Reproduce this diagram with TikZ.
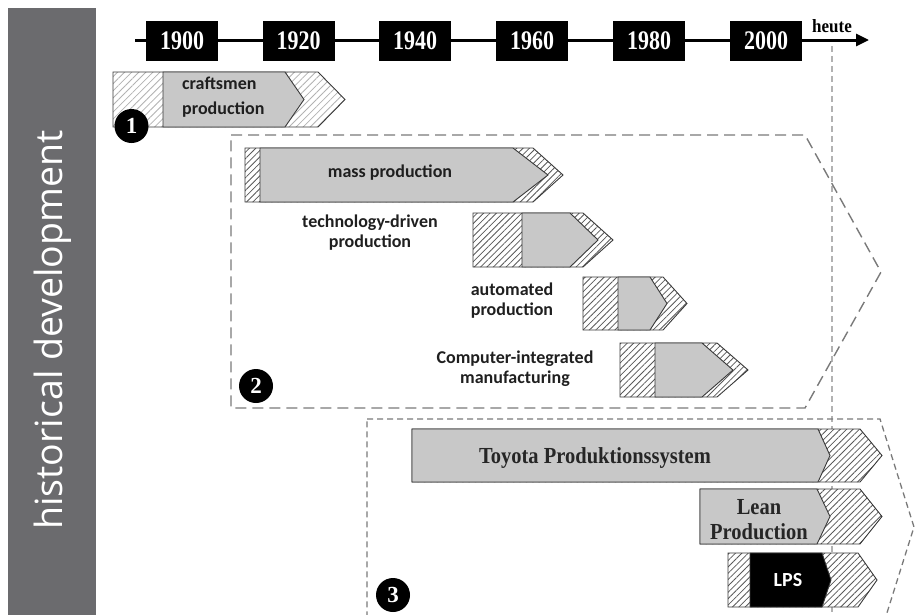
\documentclass[tikz,border=0pt]{standalone}
\usepackage{fontspec}
\usepackage{graphicx}
\setmainfont{Liberation Serif}
\newfontfamily\calfont{Carlito}
\newfontfamily\osfont{Open Sans}
\usetikzlibrary{arrows.meta,patterns.meta}
\definecolor{barcol}{HTML}{6B6B6E}
\definecolor{boxgray}{HTML}{C8C8C8}
\definecolor{edgecol}{HTML}{3A3A3A}
\definecolor{dashcol}{HTML}{7A7A7A}
\begin{document}
\begin{tikzpicture}[x=1pt,y=-1pt,
  yearbox/.style={fill=black,minimum width=72pt,minimum height=40pt,inner sep=0pt,
    text=white,font=\bfseries\fontsize{22}{24}\selectfont},
  hatchlight/.style={draw=edgecol,line width=0.9pt,preaction={fill=white},
    pattern={Lines[angle=45,distance=5pt,line width=0.8pt]},pattern color=black!30},
  hatchdark/.style={draw=edgecol,line width=0.9pt,preaction={fill=white},
    pattern={Lines[angle=45,distance=4.5pt,line width=0.8pt]},pattern color=black!65},
  grayarrow/.style={draw=edgecol,line width=0.9pt,fill=boxgray},
  sanslabel/.style={font=\calfont\bfseries\fontsize{18}{20}\selectfont,text=black!88,align=center,inner sep=0pt},
  seriflabel/.style={font=\bfseries\fontsize{20.5}{25}\selectfont,text=black!85,align=center,inner sep=0pt},
  numcircle/.style={circle,fill=black,minimum size=34pt,inner sep=0pt,text=white,
    font=\bfseries\fontsize{23}{24}\selectfont},
  group2/.style={draw=dashcol,line width=1.4pt,dash pattern=on 11pt off 6pt},
  group3/.style={draw=dashcol,line width=1.3pt,dash pattern=on 6pt off 4pt},
  nowline/.style={draw=black!30,line width=1.2pt,dash pattern=on 6pt off 4pt}]
\useasboundingbox (0,0) rectangle (915,614);
\clip (0,0) rectangle (915,614);
% side bar
\fill[barcol] (8,8) rectangle (96,620);
\node[rotate=90,text=white,font=\osfont\fontsize{37.5}{40}\selectfont,inner sep=0pt] (hist) at (53,330) {historical development};
% now line
\coordinate (nowtop) at (832,46);
\coordinate (nowbot) at (832,614);
\draw[nowline] (nowtop) -- (nowbot);
% timeline
\coordinate (tlstart) at (135,40);
\coordinate (tlend) at (869,40);
\draw[line width=3pt,-{Triangle[length=13pt,width=12pt]}] (tlstart) -- (tlend);
\node[yearbox] (y1900) at (182,41) {\scalebox{1}[1.22]{1900}};
\node[yearbox] (y1920) at (298.5,41) {\scalebox{1}[1.22]{1920}};
\node[yearbox] (y1940) at (415,41) {\scalebox{1}[1.22]{1940}};
\node[yearbox] (y1960) at (532,41) {\scalebox{1}[1.22]{1960}};
\node[yearbox] (y1980) at (649,41) {\scalebox{1}[1.22]{1980}};
\node[yearbox] (y2000) at (766,41) {\scalebox{1}[1.22]{2000}};
\node[font=\bfseries\fontsize{17}{18}\selectfont] (heute) at (832,26) {\scalebox{1}[1.1]{heute}};
% group frames
\draw[group2] (231,135) -- (805,135) -- (881,272) -- (805,408) -- (231,408) -- cycle;
\draw[group3] (367,419) -- (880,419) -- (914,527) -- (880,635) -- (367,635) -- cycle;
% 1 craftsmen
\draw[hatchlight] (113,72) -- (318,72) -- (345,99.5) -- (318,127) -- (113,127) -- cycle;
\draw[grayarrow] (163,72) -- (285,72) -- (304,99.5) -- (285,127) -- (163,127) -- cycle;
\node[sanslabel,anchor=west,align=left,font=\calfont\bfseries\fontsize{18}{25}\selectfont] (craft) at (182,97.5) {craftsmen\\production};
\node[numcircle] (c1) at (131.5,126) {1};
% 2 mass production
\draw[hatchdark] (245,148) -- (533,148) -- (563,175) -- (533,202) -- (245,202) -- cycle;
\draw[grayarrow] (260,148) -- (513,148) -- (548,175) -- (513,202) -- (260,202) -- cycle;
\node[sanslabel] (mass) at (390,173) {mass production};
% technology-driven
\draw[hatchdark] (473,213) -- (583,213) -- (613,240) -- (583,267) -- (473,267) -- cycle;
\draw[grayarrow] (522,213) -- (570,213) -- (598,240) -- (570,267) -- (522,267) -- cycle;
\node[sanslabel] (tech) at (370,233) {technology-driven\\production};
% automated
\draw[hatchdark] (583,277) -- (663,277) -- (687,303.5) -- (663,330) -- (583,330) -- cycle;
\draw[grayarrow] (618,277) -- (650,277) -- (667,303.5) -- (650,330) -- (618,330) -- cycle;
\node[sanslabel] (auto) at (512,301) {automated\\production};
% CIM
\draw[hatchdark] (620,343) -- (717,343) -- (748,370) -- (717,397) -- (620,397) -- cycle;
\draw[grayarrow] (655,343) -- (702,343) -- (733,370) -- (702,397) -- (655,397) -- cycle;
\node[sanslabel] (cim) at (515,369) {Computer-integrated\\manufacturing};
\node[numcircle] (c2) at (256,386) {2};
% 3 Toyota
\draw[hatchdark] (412,429) -- (860,429) -- (882,455.5) -- (860,482) -- (412,482) -- cycle;
\draw[grayarrow] (412,429) -- (818,429) -- (830,455.5) -- (818,482) -- (412,482) -- cycle;
\node[seriflabel] (tps) at (595,458) {\scalebox{1}[1.12]{Toyota Produktionssystem}};
% Lean
\draw[hatchdark] (700,489) -- (860,489) -- (882,516.5) -- (860,544) -- (700,544) -- cycle;
\draw[grayarrow] (700,489) -- (817,489) -- (830,516.5) -- (817,544) -- (700,544) -- cycle;
\node[seriflabel] (lean) at (759,520) {\scalebox{1}[1.12]{Lean}\\\scalebox{1}[1.12]{Production}};
% LPS
\draw[hatchdark] (728,553) -- (858,553) -- (877,580) -- (858,607) -- (728,607) -- cycle;
\draw[draw=edgecol,line width=0.9pt,fill=black] (750,553) -- (822,553) -- (831,580) -- (822,607) -- (750,607) -- cycle;
\node[sanslabel,text=white,font=\calfont\bfseries\fontsize{20}{22}\selectfont] (lps) at (788,580) {LPS};
\node[numcircle] (c3) at (393,595) {3};
\end{tikzpicture}
\end{document}
